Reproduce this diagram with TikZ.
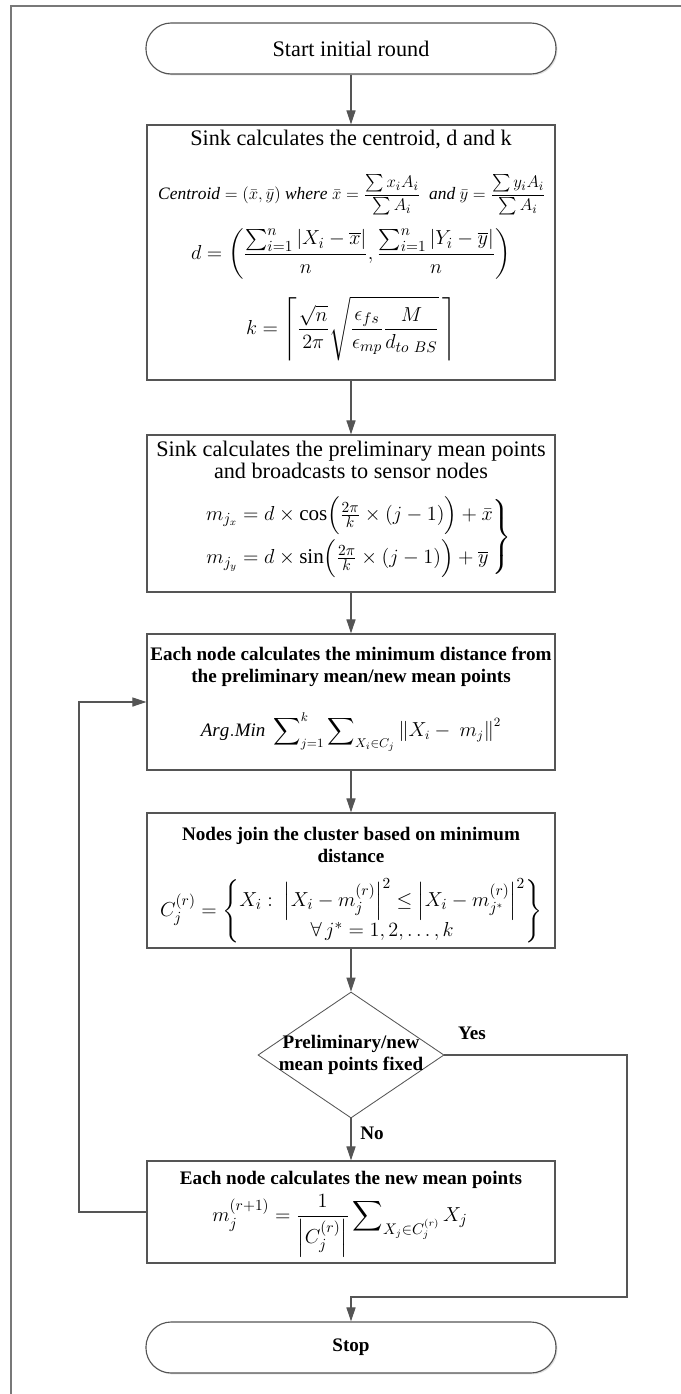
\documentclass[tikz,border=0pt]{standalone}
\usepackage{amssymb}
\usepackage{amsmath}
\usepackage{fontspec}
\setmainfont{Liberation Serif}
\usetikzlibrary{shapes.geometric, arrows.meta, shadows}
\definecolor{linegray}{RGB}{85,85,85}
\definecolor{framegray}{RGB}{120,120,120}
\newcommand{\regtext}{\fontsize{15.8}{16}\selectfont}
\newcommand{\boldtext}{\fontsize{13.6}{16}\selectfont\bfseries}

\begin{document}
\begin{tikzpicture}[x=0.025cm,y=-0.025cm,
  every node/.style={inner sep=0pt},
  procbox/.style={draw=linegray,line width=0.8pt,fill=white,minimum width=10.2cm,
    drop shadow={shadow xshift=1pt,shadow yshift=-1pt,fill=black!15,opacity=0.8}},
  pill/.style={procbox,rounded corners=0.63cm,minimum width=10.25cm,minimum height=1.275cm},
  decision/.style={diamond,draw=linegray,line width=0.6pt,fill=white,minimum width=4.65cm,minimum height=3.15cm},
  flow/.style={draw=linegray,line width=0.8pt,-{Triangle[length=10pt,width=6.5pt]}}]

\useasboundingbox (0,0) rectangle (681,1394);
\draw[framegray,line width=1pt] (11,1394) -- (11,6) -- (681,6);

\node[pill] (start) at (351,48.5) {};
\node[font=\regtext] (starttext) at (351,48.5) {Start initial round};

\node[procbox,minimum height=6.375cm] (centroid) at (351,252.5) {};
\node[font=\regtext] (centroidtitle) at (351,139) {Sink calculates the centroid, d and k};
\node (centroideq) at (352,195) {\fontsize{12.4}{15}\selectfont
  $\mathit{Centroid} = (\bar{x},\bar{y})\ \mathit{where}\ \bar{x} = \dfrac{\sum x_iA_i}{\sum A_i}\ \ \mathit{and}\ \bar{y} = \dfrac{\sum y_iA_i}{\sum A_i}$};
\node (deq) at (351,254) {\fontsize{15}{17}\selectfont
  $\displaystyle d = \left(\frac{\sum_{i=1}^{n}|X_i-\overline{x}|}{n},\frac{\sum_{i=1}^{n}|Y_i-\overline{y}|}{n}\right)$};
\node (keq) at (351,329) {\fontsize{15}{17}\selectfont
  $\displaystyle k = \left\lceil\frac{\sqrt{n}}{2\pi}\sqrt{\frac{\epsilon_{fs}}{\epsilon_{mp}}\frac{M}{d_{to\ BS}}}\,\right\rceil$};

\node[procbox,minimum height=3.925cm] (prelim) at (351,513.5) {};
\node[font=\regtext,align=center] (prelimtitle) at (351,460) {Sink calculates the preliminary mean points\\and broadcasts to sensor nodes};
\node (prelimeq) at (358,537) {\fontsize{15}{17}\selectfont
  $\left.\begin{aligned}
  m_{j_x} &= d\times\cos\Bigl(\tfrac{2\pi}{k}\times(j-1)\Bigr)+\bar{x}\\
  m_{j_y} &= d\times\sin\Bigl(\tfrac{2\pi}{k}\times(j-1)\Bigr)+\overline{y}
  \end{aligned}\right\}$};

\node[procbox,minimum height=3.4cm] (mindist) at (351,702) {};
\node[font=\boldtext,align=center] (mindisttitle) at (351,667) {Each node calculates the minimum distance from\\the preliminary mean/new mean points};
\node (mindisteq) at (351,732) {\fontsize{13.5}{16}\selectfont
  $\displaystyle \mathit{Arg.Min}\ \sum\nolimits_{j=1}^{k}\sum\nolimits_{X_i\in C_j}\left\|X_i-\ m_j\right\|^2$};

\node[procbox,minimum height=3.375cm] (join) at (351,880.5) {};
\node[font=\boldtext,align=center] (jointitle) at (351,845) {Nodes join the cluster based on minimum\\distance};
\node (joineq) at (351,911) {\fontsize{15}{17}\selectfont
  $C_j^{(r)} = \left\{\begin{array}{@{}c@{}}
  X_i:\ \left|X_i-m_j^{(r)}\right|^2\le\left|X_i-m_{j^*}^{(r)}\right|^2\\
  \forall\, j^* = 1,2,\dots,k
  \end{array}\right\}$};

\node[decision] (fixed) at (351,1055) {};
\node[font=\boldtext,align=center] (fixedtext) at (351,1055) {Preliminary/new\\mean points fixed};

\node[procbox,minimum height=2.55cm] (newmean) at (351,1212) {};
\node[font=\boldtext] (newmeantitle) at (351,1180) {Each node calculates the new mean points};
\node (newmeaneq) at (340,1226) {\fontsize{15}{17}\selectfont
  $\displaystyle m_j^{(r+1)} = \frac{1}{\left|C_j^{(r)}\right|}\sum\nolimits_{X_j\in C_j^{(r)}}X_j$};

\node[pill] (stop) at (351,1347.5) {};
\node[font=\boldtext] (stoptext) at (351,1347.5) {Stop};

\node[font=\boldtext] (yes) at (472,1033) {Yes};
\node[font=\boldtext] (no) at (372,1133) {No};

\coordinate (loop) at (79,702);
\coordinate (yesturn) at (627,1297);
\coordinate (yesjoin) at (351,1297);

\draw[flow] (start) -- (centroid);
\draw[flow] (centroid) -- (prelim);
\draw[flow] (prelim) -- (mindist);
\draw[flow] (mindist) -- (join);
\draw[flow] (join) -- (fixed);
\draw[flow] (fixed) -- (newmean);
\draw[flow] (newmean.west) -| (loop) -- (mindist.west);
\draw[flow] (fixed.east) -| (yesturn) -- (yesjoin) -- (stop);

\end{tikzpicture}
\end{document}
